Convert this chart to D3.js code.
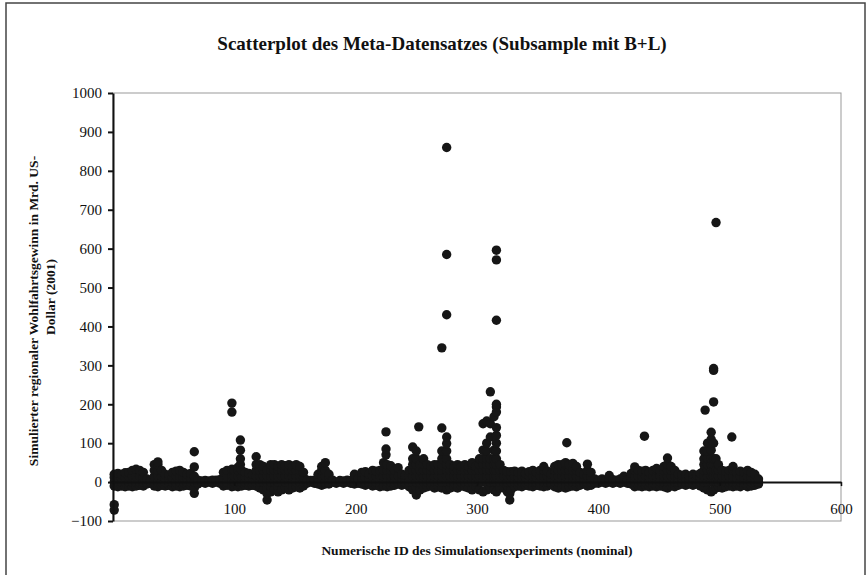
<!DOCTYPE html>
<html>
<head>
<meta charset="utf-8">
<script src="https://cdn.jsdelivr.net/npm/d3@7"></script>
<style>
  html, body { margin: 0; padding: 0; background: #fff; }
  svg { display: block; }
</style>
</head>
<body>
<svg id="chart" width="868" height="575"></svg>
<script>
// ---- data ----
const chartTitle = "Scatterplot des Meta-Datensatzes (Subsample mit B+L)";
const xTitle = "Numerische ID des Simulationsexperiments (nominal)";
const yTitleLines = ["Simulierter regionaler Wohlfahrtsgewinn in Mrd. US-", "Dollar (2001)"];
const xTicks = [100, 200, 300, 400, 500, 600];
const yTicks = [-100, 0, 100, 200, 300, 400, 500, 600, 700, 800, 900, 1000];

// numeric experiment IDs
const experimentIds = [
  1, 4, 7, 10, 13, 16, 19, 22, 25, 28, 31, 34, 37, 40, 43, 46, 49, 52, 55, 58, 61, 64, 67,
  70, 73, 76, 79, 82, 85, 88, 91, 94, 98, 100, 103, 105, 106, 109, 112, 115, 118, 121, 124,
  127, 130, 133, 136, 139, 142, 145, 148, 151, 154, 157, 160, 163, 166, 169, 172, 175, 178,
  181, 184, 187, 190, 193, 196, 199, 202, 205, 208, 211, 214, 217, 220, 223, 225, 226, 229,
  232, 235, 238, 241, 244, 247, 250, 252, 253, 256, 259, 262, 265, 268, 271, 275, 278, 281,
  284, 287, 290, 293, 296, 299, 302, 305, 308, 311, 314, 316, 319, 322, 325, 327, 328, 331,
  334, 337, 340, 343, 346, 349, 352, 355, 358, 361, 364, 367, 370, 373, 374, 376, 379, 382,
  385, 388, 391, 394, 397, 400, 403, 406, 409, 412, 415, 418, 421, 424, 427, 430, 433, 436,
  438, 439, 442, 445, 448, 451, 454, 457, 460, 463, 466, 469, 472, 475, 478, 481, 484, 487,
  488, 490, 493, 495, 497, 499, 502, 505, 508, 510, 511, 514, 517, 520, 523, 526, 529, 532
];

// simulated regional welfare gains (bn US-$ 2001), one list per experiment ID
const regionalGains = [
  [-72, -58, -10, 0, 12, 20], [-12, 0, 12, 22], [-10, 0, 10, 20], [-12, 0, 12, 24], [-10, 0, 14, 25],
  [-12, 0, 15, 30], [-10, 0, 15, 33], [-8, 0, 15, 30], [-10, 0, 12, 25], [-5, 0, 8], [-3, 0, 5],
  [-10, 0, 15, 30, 45], [-12, 0, 15, 30, 45, 52], [-8, 0, 15, 30], [-10, 0, 10, 20], [-8, 0, 10, 18],
  [-12, 0, 12, 25], [-10, 0, 15, 28], [-12, 0, 15, 30], [-10, 0, 12, 25], [-8, 0, 10, 20],
  [-10, 0, 12, 22], [-29, -15, 0, 15, 39, 78],
  [-5, 0, 5], [0, 3], [-3, 0, 4], [0, 3], [-3, 0, 5], [0, 5], [-3, 0, 6], [-10, 0, 12, 25],
  [-8, 0, 15, 30], [-12, 0, 15, 33, 180, 203], [-10, 0, 15, 30], [-12, 0, 15, 30, 38],
  [45, 60, 82, 108], [-10, 0, 15, 30], [-8, 0, 12, 25], [-10, 0, 12, 22], [-8, 0, 10, 20],
  [-10, 0, 15, 30, 45, 65], [-15, 0, 15, 30, 45], [-20, 0, 15, 30, 40],
  [-46, -30, -15, 0, 15, 30], [-25, -12, 0, 15, 30, 45], [-20, 0, 15, 30, 45],
  [-25, -12, 0, 15, 30, 40], [-20, 0, 15, 30, 45], [-15, 0, 15, 30, 42], [-20, 0, 15, 30, 45],
  [-15, 0, 15, 30, 40], [-12, 0, 15, 30, 45], [-15, 0, 15, 30, 40], [-10, 0, 12, 25],
  [-3, 0, 5], [0, 4], [-3, 0, 5], [-5, 0, 10, 20], [-8, 0, 15, 30, 40], [-5, 0, 15, 30, 50],
  [-5, 0, 12, 20],
  [0, 5], [-3, 0], [0, 4], [-3, 0, 3], [0, 5], [-3, 0, 4], [-5, 0, 12, 20], [-3, 0, 8],
  [-5, 0, 12, 25], [-8, 0, 12, 27], [-5, 0, 10, 20], [-10, 0, 15, 30], [-8, 0, 15, 28],
  [-12, 0, 15, 30], [-10, 0, 15, 30, 50], [70, 85, 129], [-12, 0, 15, 30, 45], [-10, 0, 15, 30, 42],
  [-8, 0, 15, 30], [-5, 0, 15, 37], [-8, 0, 10, 20], [-5, 0, 10, 18], [-12, 0, 15, 30],
  [-20, 0, 15, 30, 45, 60, 90], [-33, -15, 0, 15, 30, 45, 60, 80], [142], [-20, 0, 15, 30, 45],
  [-15, 0, 15, 30, 45, 60], [-12, 0, 15, 30, 45], [-10, 0, 15, 30, 40], [-15, 0, 15, 30, 45],
  [-12, 0, 15, 30, 45], [-15, 0, 15, 30, 45, 60, 80, 139, 345],
  [-20, 0, 15, 30, 45, 60, 80, 99, 116, 430, 585, 860], [-15, 0, 15, 30, 45], [-12, 0, 15, 30, 40],
  [-15, 0, 15, 30, 45], [-10, 0, 15, 30, 40], [-12, 0, 15, 30, 45], [-15, 0, 15, 30, 40],
  [-20, 0, 15, 30, 45, 50], [-12, 0, 15, 30, 40], [-20, 0, 15, 30, 45, 60],
  [-25, 0, 15, 30, 45, 60, 82, 150], [-20, 0, 15, 30, 45, 60, 80, 100, 157],
  [-15, 0, 15, 30, 45, 60, 116, 150, 232], [-20, 0, 15, 30, 45, 60, 82, 168],
  [-25, 0, 15, 30, 45, 60, 80, 100, 120, 140, 180, 193, 200, 416, 571, 596],
  [-15, 0, 15, 30, 45], [-15, 0, 15, 30], [-25, -10, 0, 15, 27], [-46, -30], [-20, 0, 15, 27],
  [-12, 0, 15, 28],
  [-10, 0, 12, 25], [-12, 0, 15, 28], [-8, 0, 12, 22], [-10, 0, 15, 27], [-12, 0, 15, 30],
  [-8, 0, 12, 25], [-10, 0, 15, 30], [-12, 0, 15, 30, 40], [-10, 0, 15, 28], [-5, 0, 10, 20],
  [-12, 0, 15, 30, 40], [-15, 0, 15, 30, 45], [-12, 0, 15, 30, 45], [-15, 0, 15, 30, 45, 50],
  [101], [-12, 0, 15, 30, 45], [-10, 0, 15, 30, 48], [-12, 0, 15, 30, 40],
  [-8, 0, 12, 25], [-5, 0, 10, 20], [-10, 0, 15, 30, 46], [-8, 0, 12, 25], [-3, 0, 8], [-3, 0, 5],
  [0, 8], [-3, 0, 5], [0, 10, 17], [-3, 0, 6], [0, 5], [-3, 0, 8], [0, 10, 15], [-3, 0, 5],
  [-5, 0, 12, 22], [-12, 0, 15, 30, 39], [-10, 0, 15, 30], [-12, 0, 15, 28],
  [118], [-10, 0, 15, 30], [-12, 0, 12, 25], [-10, 0, 15, 30], [-12, 0, 15, 30, 35],
  [-10, 0, 15, 28], [-12, 0, 15, 30, 40], [-15, 0, 15, 30, 45, 62], [-10, 0, 15, 30, 40],
  [-12, 0, 15, 30], [-8, 0, 10, 20], [-5, 0, 10, 18], [-8, 0, 10, 20], [-5, 0, 8, 15],
  [-8, 0, 10, 20], [-5, 0, 10, 18], [-10, 0, 12, 22], [-15, 0, 15, 30, 45, 60, 80],
  [185], [-20, 0, 15, 30, 45, 60, 80, 100], [-25, 0, 15, 30, 45, 60, 82, 110, 128],
  [-20, 0, 15, 30, 45, 60, 100, 206, 287, 292], [-15, 0, 15, 30, 60, 667], [-12, 0, 15, 30, 45],
  [-15, 0, 15, 30], [-12, 0, 15, 28], [-10, 0, 15, 30], [116], [-12, 0, 15, 30, 40],
  [-10, 0, 12, 25], [-12, 0, 15, 28], [-8, 0, 12, 25], [-12, 0, 15, 30], [-10, 0, 12, 25],
  [-8, 0, 10, 20], [-5, 0, 8]
];

// ---- drawing ----
const W = 868, H = 575;
const svg = d3.select("#chart");
const serif = "'Liberation Serif', 'Times New Roman', serif";

svg.append("rect").attr("x", 0).attr("y", 0).attr("width", W).attr("height", H).attr("fill", "#fff");
// outer chart frame
svg.append("rect").attr("x", 6).attr("y", 3).attr("width", 859).attr("height", 590)
  .attr("fill", "none").attr("stroke", "#444").attr("stroke-width", 1.5);

const x = d3.scaleLinear().domain([0, 600]).range([113, 841]);
const y = d3.scaleLinear().domain([-100, 1000]).range([521, 93]);

// plot area border
svg.append("rect").attr("x", x(0)).attr("y", y(1000)).attr("width", x(600) - x(0)).attr("height", y(-100) - y(1000))
  .attr("fill", "none").attr("stroke", "#999").attr("stroke-width", 1);

// points
const points = [];
experimentIds.forEach((id, i) => regionalGains[i].forEach(v => points.push({ id, v })));
svg.append("g").selectAll("circle").data(points).join("circle")
  .attr("cx", d => x(d.id)).attr("cy", d => y(d.v)).attr("r", 4.7).attr("fill", "#161616");

// y axis
const yAxis = svg.append("g").attr("transform", `translate(${x(0)},0)`)
  .call(d3.axisLeft(y).tickValues(yTicks).tickSize(5).tickSizeOuter(0).tickPadding(6).tickFormat(d3.format("d")));
yAxis.select(".domain").attr("stroke", "#111").attr("stroke-width", 2);
yAxis.selectAll(".tick line").attr("stroke", "#111").attr("stroke-width", 2);
yAxis.selectAll(".tick text").attr("font-family", serif).attr("font-size", 15).attr("fill", "#111");

// x axis at zero
const xAxis = svg.append("g").attr("transform", `translate(0,${y(0)})`)
  .call(d3.axisBottom(x).tickValues(xTicks).tickSize(4).tickSizeOuter(0).tickPadding(17));
xAxis.select(".domain").attr("stroke", "#111").attr("stroke-width", 2);
xAxis.selectAll(".tick line").attr("stroke", "#111").attr("stroke-width", 1.5);
xAxis.selectAll(".tick text").attr("font-family", serif).attr("font-size", 15).attr("fill", "#111");

// titles
svg.append("text").attr("x", 442).attr("y", 50).attr("text-anchor", "middle")
  .attr("font-family", serif).attr("font-weight", "bold").attr("font-size", 19).attr("fill", "#111")
  .text(chartTitle);

svg.append("text").attr("x", 477).attr("y", 555).attr("text-anchor", "middle")
  .attr("font-family", serif).attr("font-weight", "bold").attr("font-size", 13.5).attr("fill", "#111")
  .text(xTitle);

const yTitleCenters = [[33, 311], [50, 297]];
yTitleLines.forEach((line, i) => {
  const [cx, cy] = yTitleCenters[i];
  svg.append("text").attr("transform", `translate(${cx + 5},${cy}) rotate(-90)`)
    .attr("text-anchor", "middle")
    .attr("font-family", serif).attr("font-weight", "bold").attr("font-size", 13.5).attr("fill", "#111")
    .text(line);
});
</script>
</body>
</html>
